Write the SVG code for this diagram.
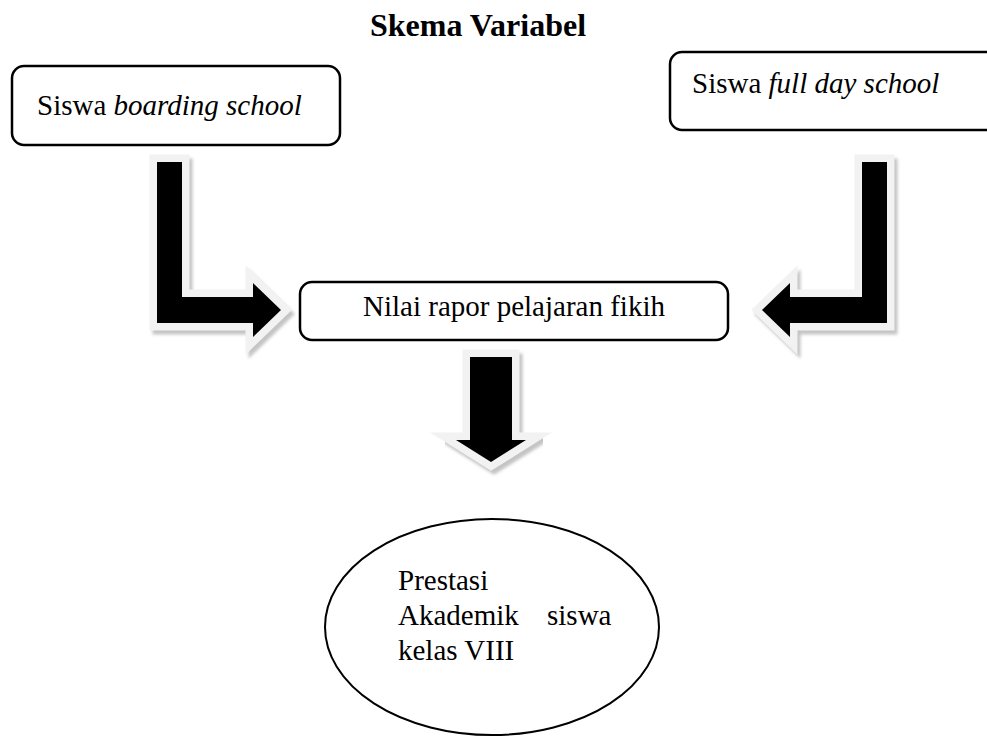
<svg xmlns="http://www.w3.org/2000/svg" width="987" height="743" viewBox="0 0 987 743">
<style>
.box{fill:#fff;stroke:#000;stroke-width:2.5}
.t{font-family:"Liberation Serif","Times New Roman",serif;font-size:29px;fill:#000}
.it{font-style:italic}
.glow{fill:#f2f2f2;stroke:#f2f2f2;stroke-width:15;stroke-linejoin:miter;stroke-miterlimit:10}
.shadow{fill:#c4c4c4;stroke:#c4c4c4;stroke-width:15;stroke-linejoin:miter;stroke-miterlimit:10}
.core{fill:#000}
</style>
<defs>
<filter id="blur" x="-20%" y="-20%" width="140%" height="140%"><feGaussianBlur stdDeviation="1.5"/></filter>
<path id="arrL" d="M157,162 H182 V297 H253 V283 L281,310 L253,337 V323 H157 Z"/>
<path id="arrR" d="M862,162 H887 V323 H790 V337 L762,310 L790,283 V297 H862 Z"/>
<path id="arrD" d="M470,357 H512 V440 H526 L491,462 L456,440 H470 Z"/>
</defs>
<text class="t" x="478" y="36" text-anchor="middle" font-weight="bold" style="font-size:32px">Skema Variabel</text>
<g id="connectors">
<g id="arrow-left">
<use href="#arrL" class="shadow" transform="translate(3,4)" filter="url(#blur)"/>
<use href="#arrL" class="glow"/>
<use href="#arrL" class="core"/>
</g>
<g id="arrow-right">
<use href="#arrR" class="shadow" transform="translate(3,4)" filter="url(#blur)"/>
<use href="#arrR" class="glow"/>
<use href="#arrR" class="core"/>
</g>
<g id="arrow-down">
<use href="#arrD" class="shadow" transform="translate(3,4)" filter="url(#blur)"/>
<use href="#arrD" class="glow"/>
<use href="#arrD" class="core"/>
</g>
</g>
<g id="node-boarding">
<rect class="box" x="12" y="66" width="328" height="79" rx="12"/>
<text class="t" x="37" y="115">Siswa <tspan class="it">boarding school</tspan></text>
</g>
<g id="node-fullday">
<rect class="box" x="670" y="52" width="340" height="78" rx="12"/>
<text class="t" x="692" y="93">Siswa <tspan class="it">full day school</tspan></text>
</g>
<g id="node-nilai">
<rect class="box" x="300" y="282" width="428" height="58" rx="12"/>
<text class="t" x="514" y="316" text-anchor="middle">Nilai rapor pelajaran fikih</text>
</g>
<g id="node-prestasi">
<ellipse class="box" cx="492" cy="627" rx="167" ry="108" style="stroke-width:2"/>
<text class="t" x="398" y="590">Prestasi</text>
<text class="t" y="625"><tspan x="398">Akademik</tspan><tspan x="547">siswa</tspan></text>
<text class="t" x="398" y="660">kelas VIII</text>
</g>
</svg>
